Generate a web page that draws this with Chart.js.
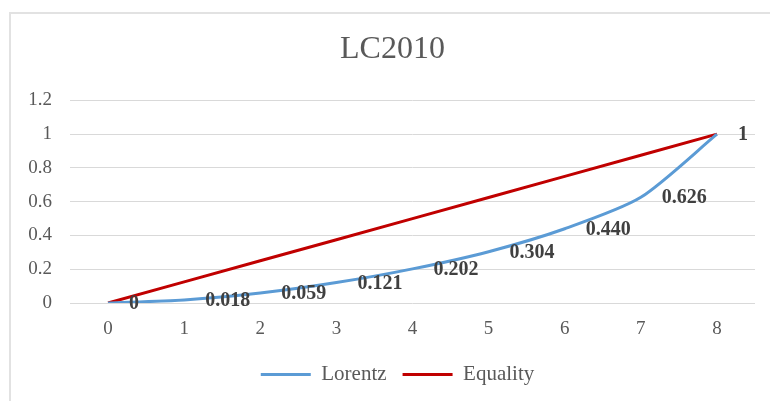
<!DOCTYPE html>
<html>
<head>
<meta charset="utf-8">
<script src="https://cdn.jsdelivr.net/npm/chart.js@4/dist/chart.umd.min.js"></script>
<style>
  html, body { margin: 0; padding: 0; background: #fff; overflow: hidden; }
  #wrap { position: relative; width: 770px; height: 401px; }
  #frame { position: absolute; left: 9px; top: 12px; width: 800px; height: 500px;
           border: 2px solid #e2e2e2; box-sizing: border-box; pointer-events: none; }
</style>
</head>
<body>
<div id="wrap">
  <canvas id="c" width="770" height="401"></canvas>
  <div id="frame"></div>
</div>
<script>
const categories = ['0', '1', '2', '3', '4', '5', '6', '7', '8'];
const lorentz = [0, 0.018, 0.059, 0.121, 0.202, 0.304, 0.440, 0.626, 1];
const lorentzLabels = ['0', '0.018', '0.059', '0.121', '0.202', '0.304', '0.440', '0.626', '1'];
const equality = [0, 0.125, 0.25, 0.375, 0.5, 0.625, 0.75, 0.875, 1];
const yTicks = [0, 0.2, 0.4, 0.6, 0.8, 1, 1.2];

const SERIF = '"Liberation Serif", "Times New Roman", serif';

const dataLabelPlugin = {
  id: 'dataLabels',
  afterDatasetsDraw(chart) {
    const meta = chart.getDatasetMeta(0);
    const ctx = chart.ctx;
    ctx.save();
    ctx.font = 'bold 20px ' + SERIF;
    ctx.fillStyle = '#404040';
    ctx.textAlign = 'left';
    ctx.textBaseline = 'middle';
    meta.data.forEach((pt, i) => {
      ctx.fillText(lorentzLabels[i], pt.x + 21, pt.y + 1);
    });
    ctx.restore();
  }
};

const shiftPlugin = {
  id: 'shiftBoxes',
  afterLayout(chart) {
    if (chart.legend) { chart.legend.left += 20; chart.legend.right += 20; }
    if (chart.titleBlock) { chart.titleBlock.left += 15; chart.titleBlock.right += 15; }
  }
};

new Chart(document.getElementById('c'), {
  type: 'line',
  data: {
    labels: categories,
    datasets: [
      {
        label: 'Lorentz',
        data: lorentz,
        borderColor: '#5B9BD5',
        backgroundColor: '#5B9BD5',
        borderWidth: 3,
        pointRadius: 0,
        tension: 0.25,
        fill: false
      },
      {
        label: 'Equality',
        data: equality,
        borderColor: '#C00000',
        backgroundColor: '#C00000',
        borderWidth: 3,
        pointRadius: 0,
        tension: 0,
        fill: false
      }
    ]
  },
  options: {
    responsive: false,
    animation: false,
    devicePixelRatio: 1,
    layout: { padding: { left: 0, right: 15, top: 0, bottom: 6 } },
    plugins: {
      title: {
        display: true,
        text: 'LC2010',
        color: '#595959',
        font: { family: SERIF, size: 32, weight: 'normal' },
        padding: { top: 30, bottom: 32 }
      },
      legend: {
        position: 'bottom',
        labels: {
          color: '#595959',
          font: { family: SERIF, size: 21 },
          usePointStyle: true,
          pointStyle: 'line',
          pointStyleWidth: 50,
          padding: 16
        }
      },
      tooltip: { enabled: false }
    },
    scales: {
      x: {
        offset: true,
        afterFit(scale) { scale.height = 45; },
        grid: { display: false, drawTicks: false },
        border: { display: false },
        ticks: {
          color: '#595959',
          font: { family: SERIF, size: 19 },
          padding: 15,
          maxRotation: 0
        }
      },
      y: {
        min: 0,
        max: 1.2,
        afterBuildTicks(scale) { scale.ticks = yTicks.map(v => ({ value: v })); },
        afterFit(scale) { scale.width = 70; },
        grid: { color: '#d9d9d9', lineWidth: 1, drawTicks: false },
        border: { display: false },
        ticks: {
          color: '#595959',
          font: { family: SERIF, size: 19 },
          padding: 18,
          callback: v => String(Math.round(v * 10) / 10)
        }
      }
    }
  },
  plugins: [dataLabelPlugin, shiftPlugin]
});
</script>
</body>
</html>
